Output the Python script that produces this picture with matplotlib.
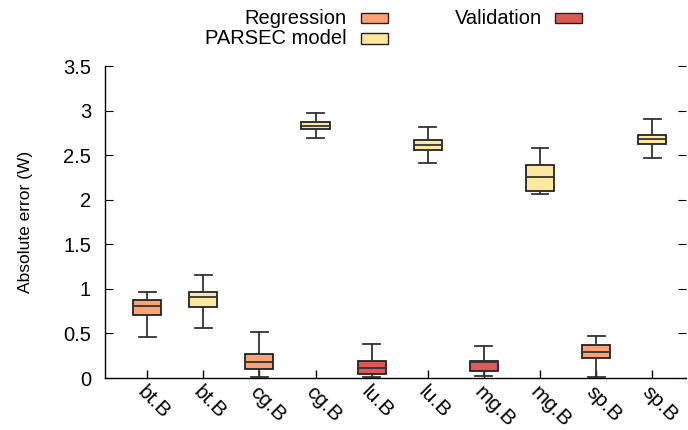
import matplotlib
matplotlib.use("Agg")
import matplotlib.pyplot as plt
from matplotlib.patches import Rectangle

plt.rcParams["font.family"] = ["Liberation Sans", "DejaVu Sans"]

# benchmark labels and which series each box belongs to
labels = ["bt.B", "bt.B", "cg.B", "cg.B", "lu.B", "lu.B", "mg.B", "mg.B", "sp.B", "sp.B"]
series = ["Regression", "PARSEC model", "Regression", "PARSEC model", "Validation",
          "PARSEC model", "Validation", "PARSEC model", "Regression", "PARSEC model"]

# box statistics (W)
whislo = [0.46, 0.56, 0.01, 2.69, 0.015, 2.41, 0.02, 2.06, 0.01, 2.465]
q1 = [0.71, 0.80, 0.10, 2.79, 0.05, 2.555, 0.075, 2.10, 0.22, 2.62]
med = [0.81, 0.905, 0.18, 2.83, 0.11, 2.61, 0.18, 2.26, 0.29, 2.68]
q3 = [0.88, 0.96, 0.27, 2.87, 0.19, 2.67, 0.19, 2.39, 0.37, 2.73]
whishi = [0.97, 1.16, 0.52, 2.97, 0.38, 2.82, 0.36, 2.58, 0.47, 2.90]

colors = {"Regression": "#fca275", "PARSEC model": "#fee7a1", "Validation": "#e05a55"}

fig = plt.figure(figsize=(6.88, 4.30), dpi=100)
ax = fig.add_axes([0.1526, 0.1209, 0.8445, 0.7256])

stats = []
for i in range(len(labels)):
    stats.append({"whislo": whislo[i], "q1": q1[i], "med": med[i],
                  "q3": q3[i], "whishi": whishi[i], "fliers": [], "label": labels[i]})

positions = list(range(1, len(labels) + 1))
bp = ax.bxp(stats, positions=positions, widths=0.5, capwidths=0.3,
            patch_artist=True, showfliers=False,
            boxprops=dict(edgecolor="#222222", linewidth=1.3),
            whiskerprops=dict(color="#333333", linewidth=1.3),
            capprops=dict(color="#333333", linewidth=1.3),
            medianprops=dict(color="#333333", linewidth=1.3))
for patch, s in zip(bp["boxes"], series):
    patch.set_facecolor(colors[s])

ax.set_xlim(0.25, 10.6)
ax.set_ylim(0, 3.5)
ax.set_yticks([0, 0.5, 1, 1.5, 2, 2.5, 3, 3.5])
ax.set_yticklabels(["0", "0.5", "1", "1.5", "2", "2.5", "3", "3.5"])
ax.set_xticks(positions)
ax.set_xticklabels(labels, rotation=-45, ha="left", va="top", rotation_mode="anchor",
                   fontsize=15)

ax.tick_params(axis="y", which="both", direction="in", length=6, width=0.8,
               labelsize=14.5, right=True, pad=10)
ax.tick_params(axis="x", direction="in", length=6, width=1.0, pad=3)
ax.spines["top"].set_visible(False)
ax.spines["right"].set_visible(False)
ax.spines["left"].set_linewidth(1.0)
ax.spines["bottom"].set_linewidth(1.0)
ax.set_ylabel("Absolute error (W)", fontsize=12.5, labelpad=22)

# legend in gnuplot style: text first, sample box to the right
legend_items = [("Regression", 347, 18, 361), ("PARSEC model", 347, 38.5, 361),
                ("Validation", 542, 18, 555)]
W, H = 688.0, 430.0
for name, tx, ty, bx in legend_items:
    fig.text(tx / W, 1 - ty / H, name, ha="right", va="center", fontsize=14.5)
    fig.add_artist(Rectangle((bx / W, 1 - (ty + 5) / H), 27 / W, 10 / H,
                             transform=fig.transFigure, facecolor=colors[name],
                             edgecolor="#222222", linewidth=1.0))

fig.savefig("out.png", dpi=100, facecolor="white")
